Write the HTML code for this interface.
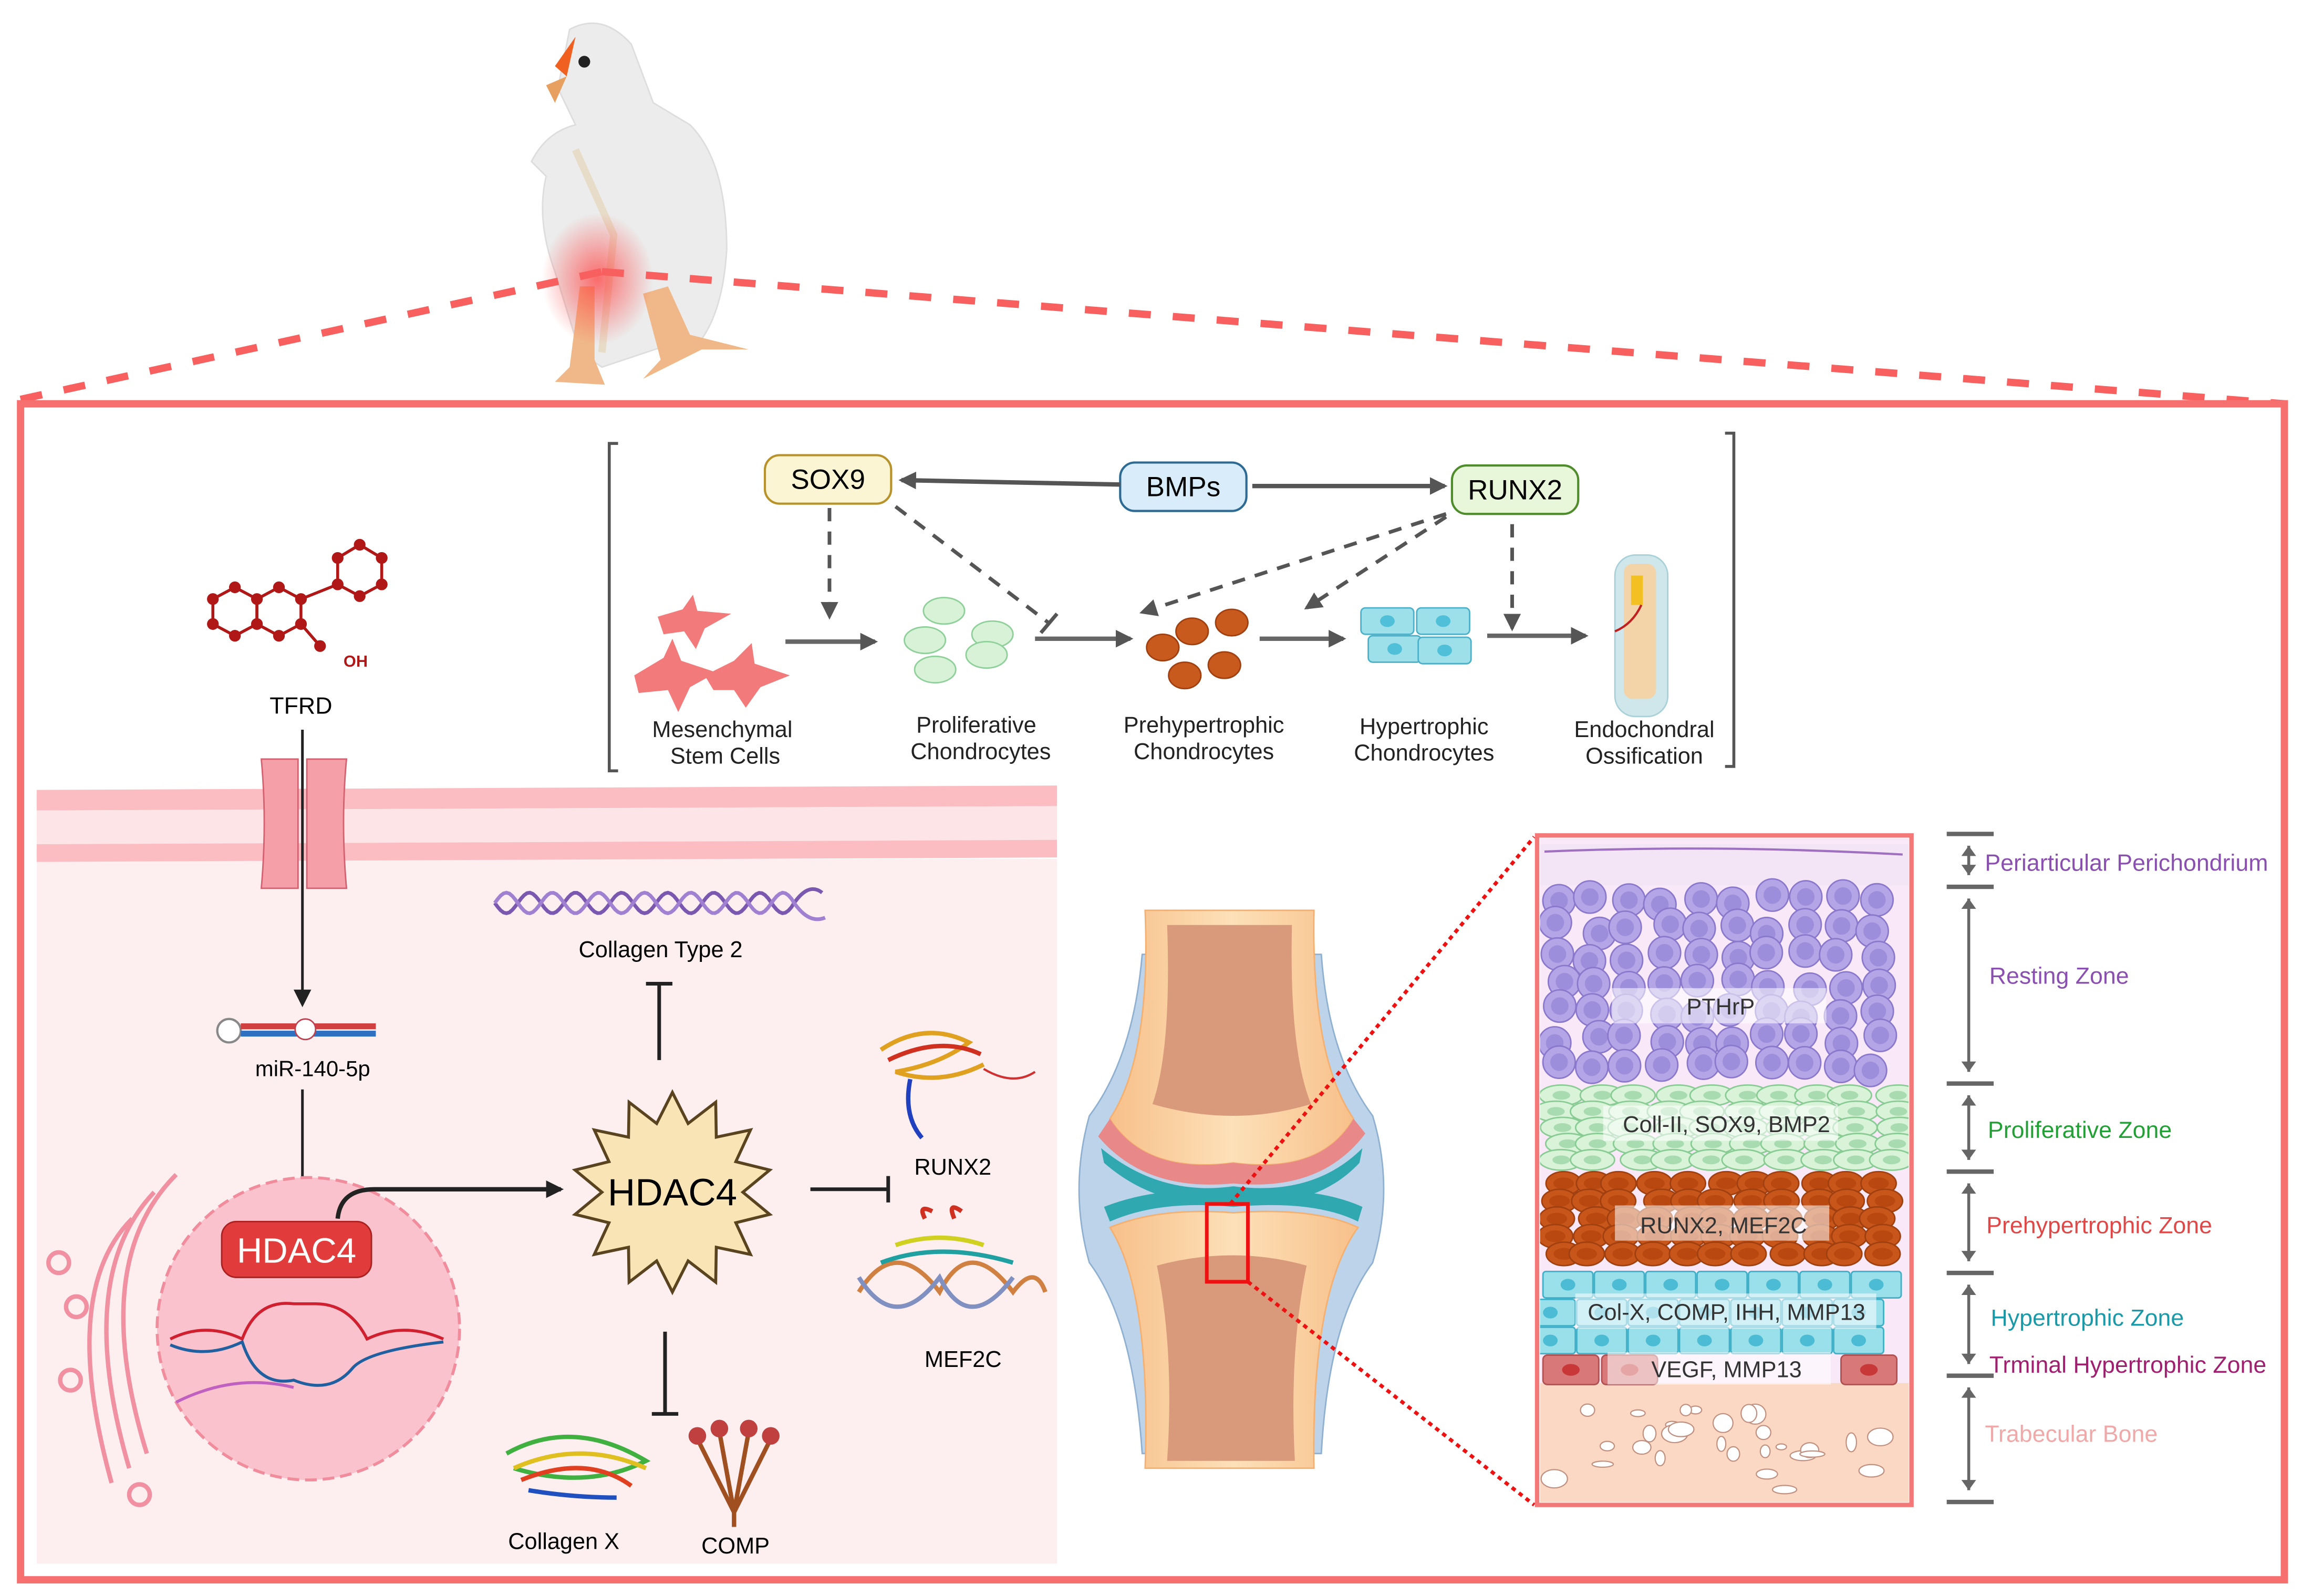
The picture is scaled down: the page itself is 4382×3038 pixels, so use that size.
<!DOCTYPE html>
<html><head><meta charset="utf-8"><style>
html,body{margin:0;padding:0;background:#fff;}
svg{display:block;}
text{font-family:"Liberation Sans",sans-serif;}
</style></head><body>
<svg id="s" xmlns="http://www.w3.org/2000/svg" width="4382" height="3038" viewBox="0 0 1568 1087">
<defs>
<marker id="ah" markerWidth="14" markerHeight="14" refX="10" refY="6" orient="auto" markerUnits="userSpaceOnUse"><path d="M0,0 L12,6 L0,12 z" fill="#555"/></marker>
<marker id="ahk" markerWidth="14" markerHeight="14" refX="10" refY="6" orient="auto" markerUnits="userSpaceOnUse"><path d="M0,0 L12,6 L0,12 z" fill="#222"/></marker>
<radialGradient id="glow"><stop offset="0" stop-color="#ff4040" stop-opacity="0.75"/><stop offset="1" stop-color="#ff4040" stop-opacity="0"/></radialGradient>
<linearGradient id="bone" x1="0" x2="1"><stop offset="0" stop-color="#f7c08a"/><stop offset="0.5" stop-color="#fde0b8"/><stop offset="1" stop-color="#f7c08a"/></linearGradient>
<clipPath id="pc"><rect x="1049" y="571" width="251" height="452"/></clipPath>
</defs>

<!-- chicken -->
<g>
<path d="M388,20 Q410,8 430,30 L445,70 L470,85 Q495,110 495,170 Q492,220 470,240 L455,235 L440,240 L410,250 L395,240 L378,185 Q365,150 372,120 L362,110 Q372,90 392,85 L380,60 Z" fill="#ececec" stroke="#ddd"/>
<path d="M378,45 L392,25 L386,52 Z" fill="#f06020"/>
<path d="M372,58 L386,52 L378,70 Z" fill="#e8a060"/>
<circle cx="398" cy="42" r="4" fill="#222"/>
<path d="M395,195 L388,250 L378,260 L412,262 L405,245 L405,195 Z" fill="#f0b888"/>
<path d="M438,200 L450,245 L438,258 L478,238 L510,238 L470,228 L455,195 Z" fill="#f0b888"/>
<path d="M392,102 L418,160 L410,240" fill="none" stroke="#e7dcc8" stroke-width="5"/>
<ellipse cx="407" cy="190" rx="38" ry="45" fill="url(#glow)"/>
</g>
<line x1="14" y1="272" x2="410" y2="185" stroke="#f86060" stroke-width="5" stroke-dasharray="15,15"/>
<line x1="410" y1="185" x2="1556" y2="275" stroke="#f86060" stroke-width="5" stroke-dasharray="15,15"/>

<rect x="14" y="275" width="1542" height="801" fill="none" stroke="#f77070" stroke-width="5"/>

<path d="M421,302 L415,302 L415,525 L421,525" fill="none" stroke="#555" stroke-width="2"/>
<path d="M1175,295 L1181,295 L1181,522 L1175,522" fill="none" stroke="#555" stroke-width="2"/>

<rect x="521" y="310" width="86" height="33" rx="10" fill="#fbf5d4" stroke="#b8922a" stroke-width="1.5"/>
<text x="564" y="333" font-size="19" text-anchor="middle">SOX9</text>
<rect x="763" y="315" width="86" height="33" rx="10" fill="#d9ecfa" stroke="#2d6a94" stroke-width="1.5"/>
<text x="806" y="338" font-size="19" text-anchor="middle">BMPs</text>
<rect x="989" y="317" width="86" height="33" rx="10" fill="#e8f6da" stroke="#4e8c2c" stroke-width="1.5"/>
<text x="1032" y="340" font-size="19" text-anchor="middle">RUNX2</text>
<line x1="763" y1="330" x2="614" y2="327" stroke="#555" stroke-width="3" marker-end="url(#ah)"/>
<line x1="853" y1="331" x2="984" y2="331" stroke="#555" stroke-width="3" marker-end="url(#ah)"/>
<g stroke="#555" stroke-width="2.5" stroke-dasharray="9,7" fill="none">
<line x1="565" y1="346" x2="565" y2="420" marker-end="url(#ah)"/>
<line x1="610" y1="345" x2="714" y2="424"/>
<line x1="985" y1="350" x2="778" y2="417" marker-end="url(#ah)"/>
<line x1="985" y1="352" x2="890" y2="414" marker-end="url(#ah)"/>
<line x1="1030" y1="357" x2="1030" y2="428" marker-end="url(#ah)"/>
</g>
<line x1="709" y1="431" x2="720" y2="418" stroke="#555" stroke-width="2.5"/>
<g stroke="#666" stroke-width="3">
<line x1="535" y1="437" x2="596" y2="437" marker-end="url(#ah)"/>
<line x1="705" y1="435" x2="770" y2="435" marker-end="url(#ah)"/>
<line x1="858" y1="435" x2="915" y2="435" marker-end="url(#ah)"/>
<line x1="1013" y1="433" x2="1080" y2="433" marker-end="url(#ah)"/>
</g>
<g fill="#f27a7a">
<path d="M448,420 L465,415 L472,405 L475,416 L498,418 L480,428 L474,442 L466,430 L452,432 Z"/>
<path d="M432,460 L452,448 L458,435 L464,450 L488,458 L470,468 L462,485 L455,470 L435,472 Z"/>
<path d="M480,460 L500,450 L512,438 L514,452 L538,460 L518,468 L508,482 L500,470 L486,470 Z"/>
</g>
<g fill="#d8f2d8" stroke="#8fd09a" stroke-width="1">
<ellipse cx="643" cy="416" rx="14" ry="9"/><ellipse cx="630" cy="436" rx="14" ry="9"/><ellipse cx="676" cy="432" rx="14" ry="9"/><ellipse cx="672" cy="446" rx="14" ry="9"/><ellipse cx="637" cy="456" rx="14" ry="9"/>
</g>
<g fill="#c85a1e" stroke="#a04010">
<ellipse cx="839" cy="424" rx="11" ry="9"/><ellipse cx="812" cy="430" rx="11" ry="9"/><ellipse cx="792" cy="441" rx="11" ry="9"/><ellipse cx="834" cy="453" rx="11" ry="9"/><ellipse cx="807" cy="460" rx="11" ry="9"/>
</g>
<g fill="#9ee0ea" stroke="#4bb0c8">
<rect x="927" y="414" width="36" height="18" rx="3"/><rect x="965" y="414" width="36" height="18" rx="3"/><rect x="932" y="433" width="36" height="18" rx="3"/><rect x="966" y="434" width="36" height="18" rx="3"/>
</g>
<g fill="#50c0d8"><ellipse cx="945" cy="423" rx="5" ry="4"/><ellipse cx="983" cy="423" rx="5" ry="4"/><ellipse cx="950" cy="442" rx="5" ry="4"/><ellipse cx="984" cy="443" rx="5" ry="4"/></g>
<rect x="1100" y="378" width="36" height="110" rx="14" fill="#cfe7ea" stroke="#a8d0d8"/>
<rect x="1106" y="384" width="22" height="92" rx="6" fill="#f2d4a8"/>
<rect x="1111" y="392" width="8" height="20" fill="#f2c020"/>
<path d="M1100,430 Q1112,425 1118,412" stroke="#c02020" fill="none" stroke-width="1.5"/>
<g font-size="15.5" fill="#222" text-anchor="middle">
<text x="492" y="502">Mesenchymal</text><text x="494" y="520">Stem Cells</text>
<text x="665" y="499">Proliferative</text><text x="668" y="517">Chondrocytes</text>
<text x="820" y="499">Prehypertrophic</text><text x="820" y="517">Chondrocytes</text>
<text x="970" y="500">Hypertrophic</text><text x="970" y="518">Chondrocytes</text>
<text x="1120" y="502">Endochondral</text><text x="1120" y="520">Ossification</text>
</g>

<g stroke="#b01818" stroke-width="2" fill="none">
<polygon points="145,408 160,400 175,408 175,425 160,433 145,425"/>
<polygon points="175,408 190,400 205,408 205,425 190,433 175,425"/>
<polygon points="230,380 245,371 260,380 260,398 245,406 230,398"/>
<line x1="205" y1="408" x2="230" y2="398"/><line x1="205" y1="425" x2="218" y2="440"/>
</g>
<g fill="#b01818" id="atoms"></g>
<text x="234" y="454" font-size="11" fill="#b01818" font-weight="bold">OH</text>
<text x="205" y="486" font-size="16" text-anchor="middle">TFRD</text>

<rect x="25" y="585" width="695" height="480" fill="#fdeef0"/>
<path d="M25,538 L720,535 L720,549 L25,552 Z" fill="#fbbcc2"/>
<path d="M25,552 L720,549 L720,572 L25,575 Z" fill="#fde4e6"/>
<path d="M25,575 L720,572 L720,584 L25,587 Z" fill="#fbbcc2"/>
<path d="M178,517 L203,517 L203,605 L178,605 Q182,560 178,517 Z" fill="#f5a0a8" stroke="#d46070"/>
<path d="M209,517 L236,517 Q232,560 236,605 L209,605 Z" fill="#f5a0a8" stroke="#d46070"/>
<line x1="206" y1="497" x2="206" y2="684" stroke="#222" stroke-width="1.8" marker-end="url(#ahk)"/>
<g>
<circle cx="156" cy="702" r="8" fill="#fff" stroke="#888" stroke-width="1.5"/>
<rect x="164" y="697" width="92" height="4" fill="#d04040"/><rect x="164" y="702" width="92" height="4" fill="#3070c0"/>
<circle cx="208" cy="701" r="7" fill="#fff" stroke="#c04050"/>
</g>
<text x="213" y="733" font-size="15" text-anchor="middle">miR-140-5p</text>
<line x1="206" y1="742" x2="206" y2="830" stroke="#222" stroke-width="1.8" marker-end="url(#ahk)"/>

<g fill="none" stroke="#f090a0" stroke-width="3">
<path d="M120,800 Q60,860 100,990"/><path d="M105,812 Q50,870 88,1000"/><path d="M90,830 Q40,880 76,1010"/>
<circle cx="40" cy="860" r="7"/><circle cx="52" cy="890" r="7"/><circle cx="48" cy="940" r="7"/><circle cx="95" cy="1018" r="7"/>
</g>
<circle cx="210" cy="905" r="103" fill="#f9c2cc" stroke="#f08c9c" stroke-width="2" stroke-dasharray="8,4"/>
<rect x="151" y="832" width="102" height="38" rx="10" fill="#e23b3b" stroke="#a82020"/>
<text x="202" y="860" font-size="24" fill="#fff" text-anchor="middle">HDAC4</text>
<path d="M116,912 Q140,900 165,912 Q175,885 200,888 L215,888 Q238,888 250,912 Q275,900 302,912" fill="none" stroke="#d02030" stroke-width="2"/>
<path d="M116,916 Q140,926 165,914 Q175,945 200,940 Q225,950 240,932 Q250,920 302,914" fill="none" stroke="#2060a0" stroke-width="2"/>
<path d="M120,955 Q160,935 200,945" fill="none" stroke="#c060c0" stroke-width="2"/>
<path d="M230,830 Q232,810 255,810 L382,810" fill="none" stroke="#222" stroke-width="3" marker-end="url(#ahk)"/>

<polygon id="star" fill="#f8e4b4" stroke="#5a4420" stroke-width="2"/>
<text x="458" y="821" font-size="26" text-anchor="middle">HDAC4</text>
<line x1="449" y1="722" x2="449" y2="670" stroke="#222" stroke-width="2.5"/>
<line x1="440" y1="670" x2="458" y2="670" stroke="#222" stroke-width="2.5"/>
<line x1="552" y1="810" x2="605" y2="810" stroke="#222" stroke-width="2.5"/>
<line x1="605" y1="801" x2="605" y2="819" stroke="#222" stroke-width="2.5"/>
<line x1="453" y1="907" x2="453" y2="963" stroke="#222" stroke-width="2.5"/>
<line x1="444" y1="963" x2="462" y2="963" stroke="#222" stroke-width="2.5"/>
<g fill="none" stroke-width="2.5">
<path id="h1" stroke="#7a58b0"/><path id="h2" stroke="#a080d0"/>
</g>
<text x="450" y="652" font-size="15.5" text-anchor="middle">Collagen Type 2</text>
<g fill="none" stroke-width="3">
<path d="M600,715 Q630,695 660,710 Q640,725 610,730 Q640,740 670,725" stroke="#e0a020"/>
<path d="M605,722 Q640,705 668,718" stroke="#d03020"/>
<path d="M620,735 Q615,760 628,775" stroke="#2040c0"/>
<path d="M670,728 Q690,740 705,730" stroke="#d03030" stroke-width="1.5"/>
<path d="M585,880 Q610,840 640,880 Q660,840 690,880 Q705,860 712,880" stroke="#d08040"/>
<path d="M585,870 Q610,910 640,870 Q660,910 690,870" stroke="#8090c0"/>
<path d="M600,860 Q640,845 690,860" stroke="#20a0a0"/>
<path d="M610,848 Q640,838 670,848" stroke="#d0d020"/>
<path d="M630,830 Q625,820 635,825 M650,830 Q645,818 655,825" stroke="#d03020"/>
<path d="M345,990 Q390,965 440,995 Q400,1015 350,1000" stroke="#40b040"/>
<path d="M350,1000 Q395,980 440,1000" stroke="#e0c020"/>
<path d="M355,1008 Q400,990 430,1012" stroke="#e04020"/>
<path d="M360,1015 Q390,1020 420,1020" stroke="#2050c0"/>
</g>
<g stroke="#a05020" stroke-width="3">
<line x1="500" y1="1030" x2="475" y2="980"/><line x1="500" y1="1030" x2="490" y2="975"/><line x1="500" y1="1030" x2="510" y2="975"/><line x1="500" y1="1030" x2="525" y2="980"/>
<line x1="500" y1="1030" x2="500" y2="1040"/>
</g>
<g fill="#c04040"><circle cx="475" cy="978" r="6"/><circle cx="490" cy="973" r="6"/><circle cx="510" cy="973" r="6"/><circle cx="525" cy="978" r="6"/></g>
<g font-size="15.5" text-anchor="middle">
<text x="649" y="800">RUNX2</text><text x="656" y="931">MEF2C</text>
<text x="384" y="1055">Collagen X</text><text x="501" y="1058">COMP</text>
</g>

<!-- joint -->
<g>
<path d="M778,650 L900,650 Q905,720 935,760 Q950,810 935,860 Q905,900 900,990 L778,990 Q772,900 742,860 Q728,810 742,760 Q772,720 778,650 Z" fill="#bcd3ea" stroke="#8fb0d0"/>
<path d="M780,620 L895,620 Q893,720 922,762 Q900,800 840,792 Q780,800 756,762 Q784,720 780,620 Z" fill="url(#bone)" stroke="#f5b070"/>
<path d="M756,762 Q780,800 840,792 Q900,800 922,762 L930,772 Q900,812 840,806 Q780,812 748,774 Z" fill="#e88888"/>
<path d="M750,782 Q790,815 840,808 Q895,815 928,782 L926,792 Q895,825 840,818 Q790,825 752,792 Z" fill="#30a8b0"/>
<path d="M752,822 Q790,807 840,812 Q895,807 928,822 L925,832 Q895,817 840,822 Q790,817 756,832 Z" fill="#30a8b0"/>
<path d="M756,836 Q790,822 840,826 Q895,822 925,836 Q893,880 895,1000 L780,1000 Q784,880 756,836 Z" fill="url(#bone)" stroke="#f5b070"/>
<path d="M795,630 L880,630 Q878,715 893,752 Q840,768 785,752 Q798,715 795,630 Z" fill="#d89a7a"/>
<path d="M788,862 Q840,848 890,862 Q878,920 882,995 L795,995 Q800,920 788,862 Z" fill="#d89a7a"/>
</g>
<rect x="822" y="820" width="28" height="53" fill="none" stroke="#ee1111" stroke-width="2.5"/>
<line x1="838" y1="820" x2="1045" y2="570" stroke="#ee1111" stroke-width="2.5" stroke-dasharray="3,3"/>
<line x1="850" y1="873" x2="1045" y2="1025" stroke="#ee1111" stroke-width="2.5" stroke-dasharray="3,3"/>

<rect x="1049" y="571" width="251" height="452" fill="#f8e8f8"/>
<rect x="1049" y="575" width="251" height="28" fill="#f3e4f6"/>
<path d="M1052,580 Q1170,575 1296,582" stroke="#a070c0" fill="none" stroke-width="1.5"/>
<rect x="1049" y="942" width="251" height="81" fill="#fbd8c4"/>
<g id="cells" clip-path="url(#pc)"></g>
<g font-size="15.5" fill="#333" text-anchor="middle">
<rect x="1098" y="673" width="146" height="24" fill="#fff" fill-opacity="0.55"/><text x="1172" y="691">PTHrP</text>
<rect x="1092" y="753" width="160" height="24" fill="#fff" fill-opacity="0.55"/><text x="1176" y="771">Coll-II, SOX9, BMP2</text>
<rect x="1100" y="821" width="146" height="24" fill="#fff" fill-opacity="0.55"/><text x="1174" y="840">RUNX2, MEF2C</text>
<rect x="1073" y="881" width="205" height="24" fill="#fff" fill-opacity="0.55"/><text x="1176" y="899">Col-X, COMP, IHH, MMP13</text>
<rect x="1095" y="921" width="152" height="22" fill="#fff" fill-opacity="0.55"/><text x="1176" y="938">VEGF, MMP13</text>
</g>
<rect x="1047" y="569" width="255" height="456" fill="none" stroke="#f47878" stroke-width="3"/>

<g stroke="#666" stroke-width="3">
<line x1="1326" y1="568" x2="1358" y2="568"/><line x1="1326" y1="604" x2="1358" y2="604"/><line x1="1326" y1="738" x2="1358" y2="738"/>
<line x1="1326" y1="798" x2="1358" y2="798"/><line x1="1326" y1="867" x2="1358" y2="867"/><line x1="1326" y1="937" x2="1358" y2="937"/><line x1="1326" y1="1023" x2="1358" y2="1023"/>
</g>
<g stroke="#666" stroke-width="2" fill="#666">
<line x1="1341" y1="576" x2="1341" y2="596"/><line x1="1341" y1="612" x2="1341" y2="730"/><line x1="1341" y1="746" x2="1341" y2="790"/>
<line x1="1341" y1="806" x2="1341" y2="859"/><line x1="1341" y1="875" x2="1341" y2="929"/><line x1="1341" y1="945" x2="1341" y2="1015"/>
</g>
<g id="ticks" fill="#666"></g>
<g font-size="16">
<text x="1352" y="593" fill="#8a50b0">Periarticular Perichondrium</text>
<text x="1355" y="670" fill="#8a50b0">Resting Zone</text>
<text x="1354" y="775" fill="#22a035">Proliferative Zone</text>
<text x="1353" y="840" fill="#e04848">Prehypertrophic Zone</text>
<text x="1356" y="903" fill="#1a9aa8">Hypertrophic Zone</text>
<text x="1355" y="935" fill="#a02070">Trminal Hypertrophic Zone</text>
<text x="1352" y="982" fill="#f0a8a8">Trabecular Bone</text>
</g>
</svg>
<script>
var NS="http://www.w3.org/2000/svg";
function el(p,t,a){var e=document.createElementNS(NS,t);for(var k in a)e.setAttribute(k,a[k]);p.appendChild(e);return e;}
var at=document.getElementById('atoms');
[[145,408],[160,400],[175,408],[175,425],[160,433],[145,425],[190,400],[205,408],[205,425],[190,433],[230,380],[245,371],[260,380],[260,398],[245,406],[230,398],[218,440]].forEach(function(p){el(at,'circle',{cx:p[0],cy:p[1],r:4});});
var pts=[],n=14;for(var i=0;i<2*n;i++){var r=i%2?48:68,a=Math.PI*i/n-Math.PI/2;pts.push((458+r*Math.cos(a)).toFixed(1)+','+(812+r*Math.sin(a)).toFixed(1));}
document.getElementById('star').setAttribute('points',pts.join(' '));
var d1='',d2='';for(var x=337;x<=540;x+=2){var y1=615+7*Math.sin((x-337)/5),y2=615-7*Math.sin((x-337)/5);d1+=(x==337?'M':'L')+x+','+y1.toFixed(1);d2+=(x==337?'M':'L')+x+','+y2.toFixed(1);}
d1+=' Q550,600 560,608';d2+=' Q550,630 562,625';
document.getElementById('h1').setAttribute('d',d1);document.getElementById('h2').setAttribute('d',d2);
var c=document.getElementById('cells');var seed=7;function rnd(){seed=(seed*9301+49297)%233280;return seed/233280;}
for(var y=613;y<735;y+=19)for(var x=1062;x<1298;x+=24){var cx=x+rnd()*8-4,cy=y+rnd()*8-4;el(c,'circle',{cx:cx,cy:cy,r:11,fill:'#b4a6e6',stroke:'#8a78cc','stroke-width':1});el(c,'circle',{cx:cx,cy:cy,r:6,fill:'#9d8edc'});}
for(var y=746;y<796;y+=11)for(var x=1064;x<1298;x+=25){var cx=x+rnd()*10-5;el(c,'ellipse',{cx:cx,cy:y,rx:15,ry:7,fill:'#d8f3d8',stroke:'#88cc94'});el(c,'ellipse',{cx:cx,cy:y,rx:6,ry:3,fill:'#a8dcb0'});}
for(var y=806;y<864;y+=12)for(var x=1062;x<1298;x+=22){var cx=x+rnd()*8-4;el(c,'ellipse',{cx:cx,cy:y,rx:12,ry:8,fill:'#c8561a',stroke:'#a04010'});el(c,'ellipse',{cx:cx,cy:y,rx:7,ry:4,fill:'#b84810'});}
for(var y=866;y<922;y+=19)for(var x=1051;x<1296;x+=35){var ox=(y>880?-12:0);el(c,'rect',{x:x+ox,y:y,width:34,height:18,rx:2,fill:'#9ae0ea',stroke:'#40b0c8'});el(c,'ellipse',{cx:x+ox+17,cy:y+9,rx:5,ry:4,fill:'#4cbcd4'});}
[1051,1091,1254].forEach(function(x){el(c,'rect',{x:x,y:923,width:38,height:20,rx:3,fill:'#d87878',stroke:'#b05050'});el(c,'ellipse',{cx:x+19,cy:933,rx:6,ry:4,fill:'#c83838'});});
for(var i=0;i<30;i++){el(c,'ellipse',{cx:1058+rnd()*235,cy:955+rnd()*62,rx:3+rnd()*6,ry:2+rnd()*5,fill:'#fff',stroke:'#c09080','stroke-width':0.8});}
var t=document.getElementById('ticks');
[[576,-1],[596,1],[612,-1],[730,1],[746,-1],[790,1],[806,-1],[859,1],[875,-1],[929,1],[945,-1],[1015,1]].forEach(function(p){var y=p[0],s=p[1];el(t,'path',{d:'M1336,'+(y-s*7)+' L1346,'+(y-s*7)+' L1341,'+y+' Z'});});
</script>
</body></html>
